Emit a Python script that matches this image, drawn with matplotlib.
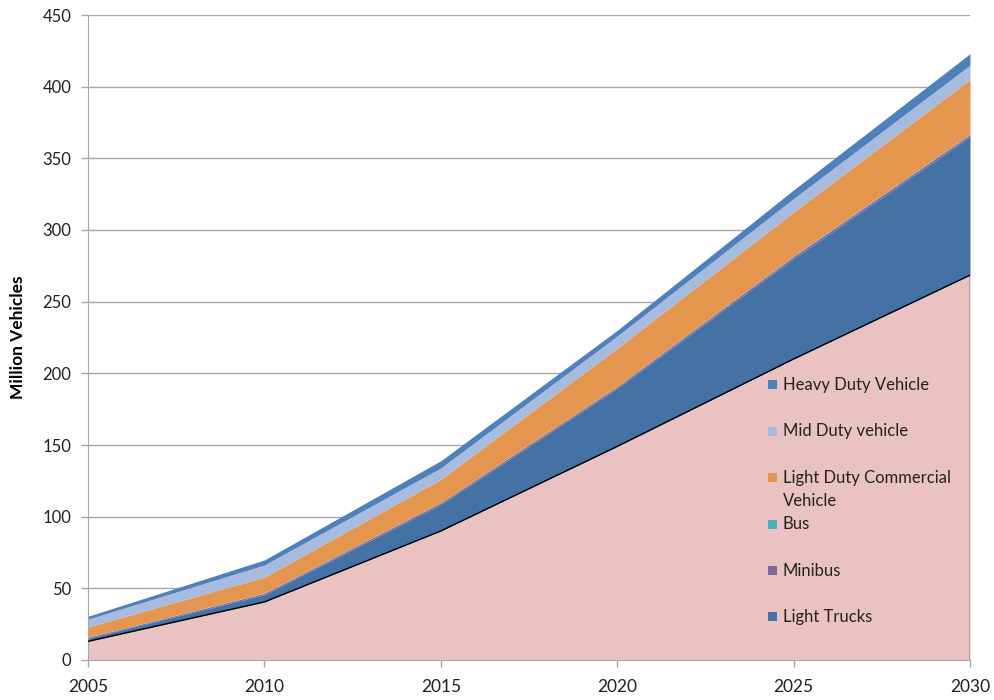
import matplotlib.pyplot as plt
from matplotlib.patches import Rectangle
import numpy as np

plt.rcParams['font.family'] = ['Lato', 'DejaVu Sans']

years = [2005, 2010, 2015, 2020, 2025, 2030]

# million vehicles per segment, stacked bottom to top
cars = [13.0, 40.5, 90.0, 149.0, 210.0, 268.5]
light_trucks = [2.2, 5.0, 18.5, 40.5, 70.0, 96.5]
minibus = [0.6, 1.0, 1.2, 1.2, 1.5, 1.5]
bus = [0.2, 0.3, 0.3, 0.3, 0.5, 0.5]
light_duty_comm = [7.0, 11.0, 16.0, 26.5, 30.5, 38.0]
mid_duty = [5.5, 8.5, 8.0, 8.5, 9.5, 10.0]
heavy_duty = [2.0, 3.5, 5.0, 4.0, 6.0, 8.0]

series = [
    ('Cars', cars, '#EBC2C2'),
    ('Light Trucks', light_trucks, '#4472A4'),
    ('Minibus', minibus, '#8066A0'),
    ('Bus', bus, '#4BACC6'),
    ('Light Duty Commercial\nVehicle', light_duty_comm, '#E5964E'),
    ('Mid Duty vehicle', mid_duty, '#A6BBDE'),
    ('Heavy Duty Vehicle', heavy_duty, '#4E80BB'),
]

W, H = 994, 700
fig = plt.figure(figsize=(W / 100, H / 100), dpi=100)
ax = fig.add_axes([88 / W, 1 - 660 / H, 882 / W, 645 / H])

x = np.array(years)
base = np.zeros(len(years))
for name, vals, color in series:
    top = base + np.array(vals)
    ax.fill_between(x, base, top, color=color, linewidth=0, zorder=2)
    if name == 'Cars':
        # cars series has a black outline
        ax.plot(x, top, color='black', linewidth=1, zorder=3)
        ax.plot([x[-1], x[-1]], [0, top[-1]], color='black', linewidth=1, zorder=3)
    base = top

ax.set_xlim(2005, 2030)
ax.set_ylim(0, 450)
ax.set_xticks(years)
ax.set_yticks(np.arange(0, 451, 50))
ax.yaxis.grid(True, color='#A6A6A6', linewidth=1)
ax.set_axisbelow(True)

for s in ['top', 'right']:
    ax.spines[s].set_visible(False)
for s in ['left', 'bottom']:
    ax.spines[s].set_color('#A6A6A6')
ax.tick_params(axis='both', colors='#A6A6A6', labelcolor='#222222',
               length=5, width=1)
ax.tick_params(axis='x', labelsize=12.5, pad=9)
ax.tick_params(axis='y', labelsize=12, pad=7)

ax.set_ylabel('Million Vehicles', fontsize=12.5, fontweight='bold', labelpad=12)

# legend, top entry first, each entry two text lines tall
line_h = 23.2
py = 385
for name, _, color in series[:0:-1]:
    fig.patches.append(Rectangle((768 / W, 1 - (py + 4.5) / H), 9 / W, 9 / H,
                                 transform=fig.transFigure, facecolor=color,
                                 edgecolor='none', zorder=5))
    lines = name.split('\n')
    for i, txt in enumerate(lines):
        fig.text(783 / W, 1 - (py + i * line_h) / H, txt, fontsize=12,
                 color='#222222', va='center', ha='left')
    py += line_h * max(2, len(lines))

fig.savefig('out.png', dpi=100)
